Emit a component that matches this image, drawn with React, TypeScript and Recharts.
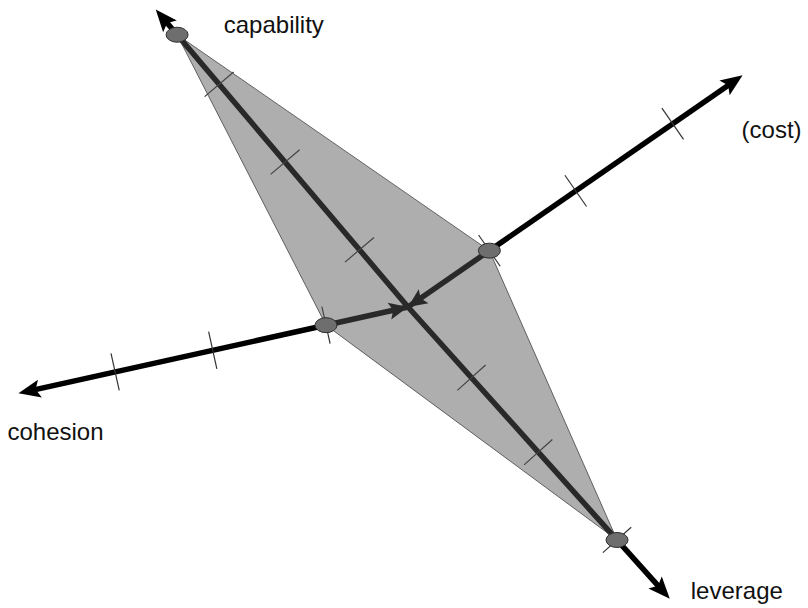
import React from 'react';
import { ScatterChart, Scatter, XAxis, YAxis } from 'recharts';

// four axes of the diagram (1 unit = one tick step, roughly)
const axisNames = ['capability', '(cost)', 'leverage', 'cohesion'];
const axisAngles = [130.3, 34.7, -48.1, 192.5]; // degrees, counter-clockwise from east
const axisEnds = [3.9, 4.07, 3.92, 3.99];
const scoreValues = [3.57, 0.99, 3.13, 0.84];
const tickValues = [
  [0.75, 1.9, 2.92],
  [0.99, 2.04, 3.22],
  [0.95, 1.95, 3.13],
  [0.84, 2.0, 3.0],
];
const inwardArrows = [false, true, false, true];

const WIDTH = 808;
const HEIGHT = 608;
const X_DOMAIN: [number, number] = [-4.08, 4.0];
const Y_DOMAIN: [number, number] = [-3.01, 3.07];

const labelOffsets: Record<string, { dx: number; dy: number }> = {
  capability: { dx: 68, dy: 23 },
  '(cost)': { dx: -1, dy: 63 },
  leverage: { dx: 21, dy: 0 },
  cohesion: { dx: -11, dy: 47 },
};

const ARROW_LEN = 22;
const ARROW_W = 18;
const TICK_HALF = 19;

const polar = (v: number, deg: number) => {
  const r = (deg * Math.PI) / 180;
  return { x: v * Math.cos(r), y: v * Math.sin(r) };
};

// unit vector on screen (y grows downward)
const screenDir = (deg: number) => {
  const r = (deg * Math.PI) / 180;
  return { ux: Math.cos(r), uy: -Math.sin(r) };
};

const arrowHead = (tx: number, ty: number, ux: number, uy: number, len: number, w: number, fill: string) => {
  const bx = tx - ux * len;
  const by = ty - uy * len;
  const nx = tx - ux * len * 0.8;
  const ny = ty - uy * len * 0.8;
  const px = -uy;
  const py = ux;
  const pts = [
    `${tx},${ty}`,
    `${bx + (px * w) / 2},${by + (py * w) / 2}`,
    `${nx},${ny}`,
    `${bx - (px * w) / 2},${by - (py * w) / 2}`,
  ].join(' ');
  return <polygon points={pts} fill={fill} />;
};

const axisData = axisNames.map((name, i) => [
  { x: 0, y: 0, kind: 'origin', angle: axisAngles[i], inward: inwardArrows[i], name },
  { ...polar(axisEnds[i], axisAngles[i]), kind: 'tip', angle: axisAngles[i], inward: false, name },
]);

const tickData = axisNames.flatMap((name, i) =>
  tickValues[i].map((v) => ({ ...polar(v, axisAngles[i]), angle: axisAngles[i], name })),
);

const scoreData = axisNames.map((name, i) => ({ ...polar(scoreValues[i], axisAngles[i]), name }));

const labelData = axisNames.map((name, i) => ({ ...polar(axisEnds[i], axisAngles[i]), name }));

const Empty = () => <g />;

const AxisLine = (props: any) => {
  const [a, b] = props.points;
  const dx = b.x - a.x;
  const dy = b.y - a.y;
  const len = Math.sqrt(dx * dx + dy * dy);
  const ux = dx / len;
  const uy = dy / len;
  return (
    <line
      x1={a.x}
      y1={a.y}
      x2={b.x - ux * (ARROW_LEN - 6)}
      y2={b.y - uy * (ARROW_LEN - 6)}
      stroke="#000"
      strokeWidth={5.5}
    />
  );
};

const AxisEnd = (props: any) => {
  const { cx, cy, payload } = props;
  const { ux, uy } = screenDir(payload.angle);
  if (payload.kind === 'tip') return arrowHead(cx, cy, ux, uy, ARROW_LEN, ARROW_W, '#000');
  if (payload.inward) return arrowHead(cx, cy, -ux, -uy, 19, 17, '#000');
  return <g />;
};

const TickMark = (props: any) => {
  const { cx, cy, payload } = props;
  const { ux, uy } = screenDir(payload.angle);
  const px = -uy;
  const py = ux;
  return (
    <line
      x1={cx - px * TICK_HALF}
      y1={cy - py * TICK_HALF}
      x2={cx + px * TICK_HALF}
      y2={cy + py * TICK_HALF}
      stroke="#333"
      strokeWidth={1.2}
    />
  );
};

const Kite = (props: any) => (
  <polygon
    points={props.points.map((p: any) => `${p.x},${p.y}`).join(' ')}
    fill="#555"
    fillOpacity={0.48}
    stroke="#444"
    strokeOpacity={0.8}
    strokeWidth={1}
  />
);

const ScoreDot = (props: any) => (
  <ellipse cx={props.cx} cy={props.cy} rx={11} ry={7.5} fill="#6e6e6e" stroke="#2e2e2e" strokeWidth={1} />
);

const AxisLabel = (props: any) => {
  const { cx, cy, payload } = props;
  const off = labelOffsets[payload.name];
  return (
    <text
      x={cx + off.dx}
      y={cy + off.dy}
      fontSize={24}
      fontFamily="'Liberation Sans', Arial, Helvetica, sans-serif"
      fill="#111"
    >
      {payload.name}
    </text>
  );
};

export default function App() {
  return (
    <div style={{ position: 'absolute', left: 0, top: 0, background: '#fff' }}>
      <ScatterChart width={WIDTH} height={HEIGHT} margin={{ top: 0, right: 0, bottom: 0, left: 0 }}>
        <XAxis type="number" dataKey="x" domain={X_DOMAIN} allowDataOverflow hide />
        <YAxis type="number" dataKey="y" domain={Y_DOMAIN} allowDataOverflow hide />
        {axisData.map((d, i) => (
          <Scatter
            key={axisNames[i]}
            data={d}
            line={AxisLine}
            lineType="joint"
            shape={AxisEnd}
            isAnimationActive={false}
          />
        ))}
        <Scatter data={tickData} shape={TickMark} isAnimationActive={false} />
        <Scatter data={scoreData} line={Kite} lineType="joint" shape={Empty} isAnimationActive={false} />
        <Scatter data={scoreData} shape={ScoreDot} isAnimationActive={false} />
        <Scatter data={labelData} shape={AxisLabel} isAnimationActive={false} />
      </ScatterChart>
    </div>
  );
}
